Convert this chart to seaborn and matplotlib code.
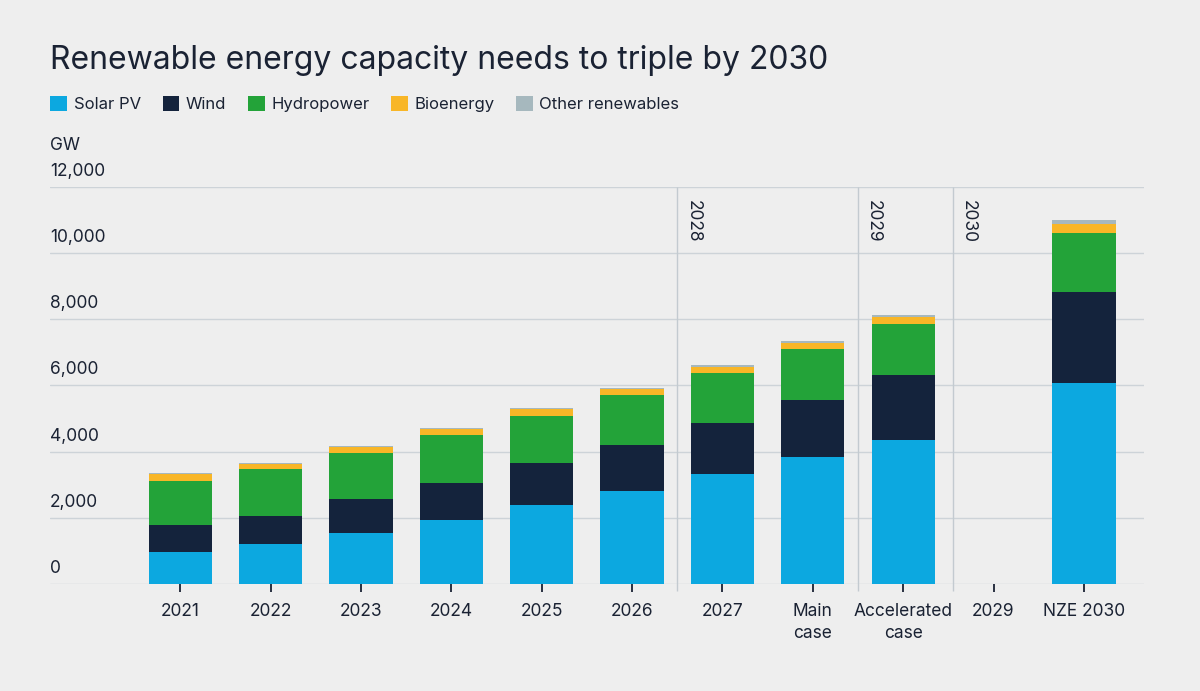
import numpy as np
import pandas as pd
import seaborn as sns
import matplotlib.pyplot as plt

# Dados (GW)
categorias = ['2021', '2022', '2023', '2024', '2025', '2026', '2027',
              'Main\ncase', 'Accelerated\ncase', '2029', 'NZE 2030']
solar = [960, 1200, 1530, 1920, 2370, 2820, 3320, 3850, 4350, 0, 6080]
vento = [820, 860, 1040, 1140, 1270, 1390, 1550, 1720, 1950, 0, 2730]
hidro = [1330, 1400, 1400, 1440, 1440, 1490, 1500, 1540, 1570, 0, 1790]
bio = [210, 170, 170, 170, 200, 195, 190, 180, 210, 0, 280]
outras = [20, 20, 20, 30, 40, 40, 60, 60, 60, 0, 130]

series = ['Solar PV', 'Wind', 'Hydropower', 'Bioenergy', 'Other renewables']
cores = ['#0ca8e0', '#14233c', '#23a339', '#f8b627', '#a6b8be']

divisores = ['2028', '2029', '2030']

df = pd.DataFrame({'cat': categorias, 'Solar PV': solar, 'Wind': vento,
                   'Hydropower': hidro, 'Bioenergy': bio, 'Other renewables': outras})
acum = df[series].cumsum(axis=1)

sns.set_style('white')
plt.rcParams['font.family'] = ['Inter', 'DejaVu Sans']
bg = '#eeeeee'
texto = '#1a2233'

fig = plt.figure(figsize=(12, 6.91), dpi=100, facecolor=bg)
ax = fig.add_axes([0.0417, 0.155, 0.912, 0.5745], facecolor=bg)

# empilhamento: desenha o total primeiro e vai cobrindo
for s, c in reversed(list(zip(series, cores))):
    sns.barplot(x=df['cat'], y=acum[s], color=c, width=0.7, saturation=1,
                ax=ax, label=s, order=categorias, linewidth=0)

ax.set_ylim(0, 12000)
ax.set_xlim(-1.44, 10.67)
ax.set_xlabel('')
ax.set_ylabel('')
for sp in ax.spines.values():
    sp.set_visible(False)

yticks = [0, 2000, 4000, 6000, 8000, 10000, 12000]
ax.set_yticks(yticks)
ax.set_yticklabels([])
ax.tick_params(axis='y', length=0)
for v in yticks:
    ax.axhline(v, color='#cdd3d8', lw=1, zorder=0)
    ax.annotate(f'{v:,}', xy=(0, v), xycoords=('axes fraction', 'data'),
                xytext=(0, 5), textcoords='offset points', ha='left', va='bottom',
                fontsize=12.5, color=texto)

ax.tick_params(axis='x', length=6, width=1.3, color=texto, pad=8,
               labelsize=12.5, labelcolor=texto, bottom=True)
for t in ax.get_xticklabels():
    t.set_linespacing(1.35)

# linhas verticais de separação
pos_div = [5.5, 7.5, 8.55]
for p, lab in zip(pos_div, divisores):
    ax.vlines(p, -220, 12000, color='#c3cad0', lw=1, clip_on=False, zorder=0)
    ax.text(p + 0.08, 11600, lab, rotation=270, ha='left', va='top',
            fontsize=12.5, color=texto)

fig.text(0.042, 1 - 60 / 691, 'Renewable energy capacity needs to triple by 2030',
         fontsize=23, color=texto, va='center', ha='left')
fig.text(0.042, 1 - 146 / 691, 'GW', fontsize=12.5, color=texto, va='center', ha='left')

h, l = ax.get_legend_handles_labels()
ordem = [l.index(s) for s in series]
ax.legend([h[i] for i in ordem], series, loc='center left',
          bbox_to_anchor=(0.042, 1 - 104 / 691), bbox_transform=fig.transFigure,
          ncol=5, frameon=False, fontsize=12, handlelength=1.0, handleheight=1.0,
          handletextpad=0.4, columnspacing=1.3, labelcolor=texto,
          borderpad=0, borderaxespad=0)

fig.savefig('out.png', dpi=100, facecolor=bg)
